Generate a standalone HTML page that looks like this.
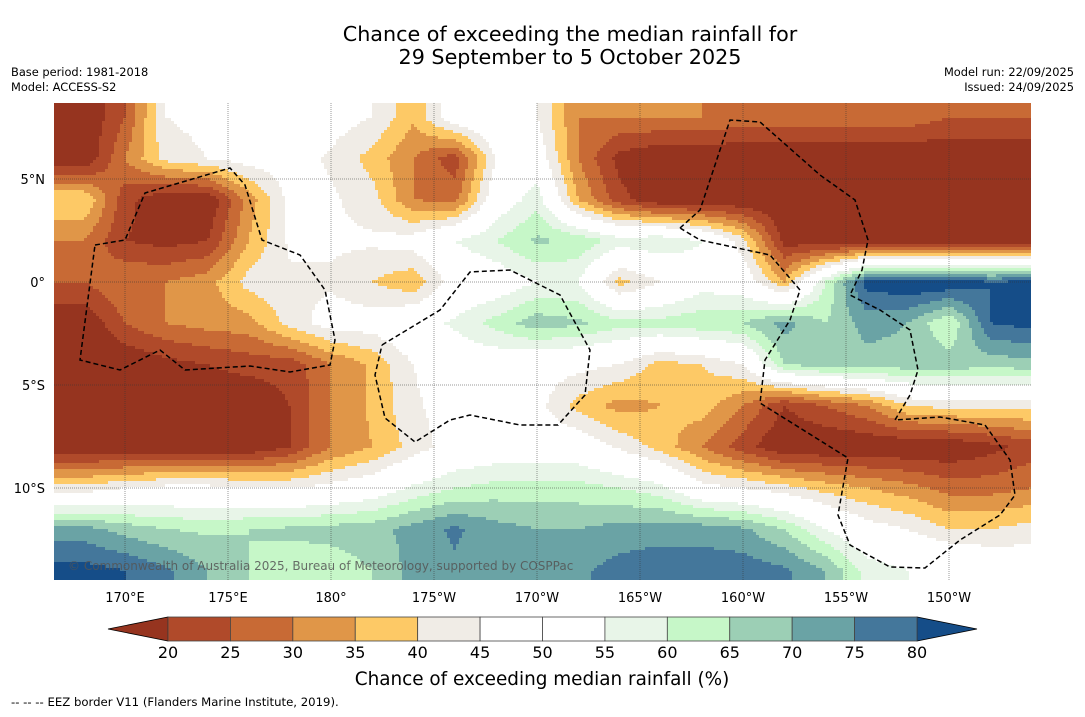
<!DOCTYPE html>
<html><head><meta charset="utf-8">
<style>
body{margin:0;background:#fff;width:1085px;height:713px;overflow:hidden;font-family:"DejaVu Sans","Liberation Sans",sans-serif;}
svg text{font-family:"DejaVu Sans","Liberation Sans",sans-serif;}
</style></head><body>
<svg id="chart" width="1085" height="713" viewBox="0 0 1085 713">
<text x="570" y="41" text-anchor="middle" font-size="20.7">Chance of exceeding the median rainfall for</text>
<text x="570" y="64" text-anchor="middle" font-size="20.7">29 September to 5 October 2025</text>
<text x="11" y="76" font-size="11.4">Base period: 1981-2018</text>
<text x="11" y="91" font-size="11.4">Model: ACCESS-S2</text>
<text x="1074" y="76" font-size="11.4" text-anchor="end">Model run: 22/09/2025</text>
<text x="1074" y="91" font-size="11.4" text-anchor="end">Issued: 24/09/2025</text>
<clipPath id="mapclip"><rect x="54" y="103" width="977" height="477"/></clipPath>
<g id="map" clip-path="url(#mapclip)"></g>
<g id="grid" clip-path="url(#mapclip)"></g>
<g id="eez" clip-path="url(#mapclip)"></g>
<text x="68" y="570" font-size="12" fill="#555" opacity="0.85">© Commonwealth of Australia 2025, Bureau of Meteorology, supported by COSPPac</text>
<g id="axes"></g>
<g id="cbar"></g>
<text x="542" y="685" text-anchor="middle" font-size="18.4">Chance of exceeding median rainfall (%)</text>
<text x="11" y="706" font-size="11.7">--  --  -- EEZ border V11 (Flanders Marine Institute, 2019).</text>
</svg>
<script>
const NS="http://www.w3.org/2000/svg";
const lons=[168,170,172,174,176,178,180,182,184,186,188,190,192,194,196,198,200,202,204,206,208,210,212,214];
const lats=[8,6,4,2,0,-2,-4,-6,-8,-10,-12,-14];
const r8N=[15,25,45,47,48,48,48,45,36,50,53,45,30,30,30,30,28,28,28,28,28,25,25,25];
const r6N=[15,30,42,45,48,48,44,38,30,22,45,50,30,18,15,15,15,15,15,15,15,15,15,15];
const r4N=[40,22,15,15,32,47,46,42,30,28,50,58,35,22,15,15,15,15,15,15,15,15,15,15];
const r2N=[30,20,18,20,35,46,46,46,48,55,60,66,64,58,60,55,42,18,15,15,15,15,15,15];
const r0=[25,30,30,33,42,44,44,40,36,48,50,55,55,38,45,52,50,35,60,82,85,85,80,82];
const r2S=[15,25,30,32,33,42,48,48,52,56,62,68,66,62,62,64,65,72,65,72,70,60,80,82];
const r4S=[15,15,18,20,22,22,30,36,45,50,50,48,47,45,38,40,45,65,68,68,68,68,67,68];
const r6S=[15,15,15,15,15,20,30,36,44,48,48,47,38,33,35,38,30,20,25,30,40,42,42,42];
const r8S=[15,15,15,15,15,20,30,35,42,48,50,50,50,44,38,30,22,15,15,15,15,15,18,22];
const r10S=[42,45,47,47,46,45,47,50,56,60,62,62,62,60,57,47,45,42,38,35,32,28,28,30];
const r12S=[72,68,65,64,65,66,67,68,72,76,72,70,70,72,73,73,71,65,55,48,45,40,40,42];
const r14S=[82,80,76,70,65,62,62,65,72,74,72,72,74,77,78,78,78,76,70,58,55,55,52,50];
const grid=[r8N,r6N,r4N,r2N,r0,r2S,r4S,r6S,r8S,r10S,r12S,r14S];
const levels=[20,25,30,35,40,45,50,55,60,65,70,75,80];
const colors=["#96341f","#b04a2a","#c86a35","#e09648","#fdc966","#f0ece6","#ffffff","#ffffff","#e8f5e8","#c6f7c8","#9ccfb5","#6aa3a5","#44779b","#154d88"];
const lonTicks=[170,175,180,185,190,195,200,205,210];
const lonLabels=["170°E","175°E","180°","175°W","170°W","165°W","160°W","155°W","150°W"];
const latTicks=[5,0,-5,-10];
const latLabels=["5°N","0°","5°S","10°S"];
function xS(lon){return 125+(lon-170)*20.6;}
function yS(lat){return 282-lat*20.6;}
function lonOf(x){return 170+(x-125)/20.6;}
function latOf(y){return (282-y)/20.6;}
function colorFor(v){let i=0;while(i<levels.length&&v>=levels[i])i++;return colors[i];}
function sample(lon,lat){
  let fi=(lon-lons[0])/2, fj=(lats[0]-lat)/2;
  fi=Math.max(0,Math.min(lons.length-1.001,fi)); fj=Math.max(0,Math.min(lats.length-1.001,fj));
  const i=Math.floor(fi),j=Math.floor(fj),a=fi-i,b=fj-j;
  return grid[j][i]*(1-a)*(1-b)+grid[j][i+1]*a*(1-b)+grid[j+1][i]*(1-a)*b+grid[j+1][i+1]*a*b;
}
const map=document.getElementById('map');
const step=3;
for(let y=103;y<580;y+=step){
  let runStart=54,runCol=null;
  for(let x=54;x<=1032;x+=step){
    const c=x<1032?colorFor(sample(lonOf(x+step/2),latOf(y+step/2))):null;
    if(c!==runCol){
      if(runCol!==null){
        const r=document.createElementNS(NS,'rect');
        r.setAttribute('x',runStart);r.setAttribute('y',y);r.setAttribute('width',x-runStart+0.5);r.setAttribute('height',step+0.5);r.setAttribute('fill',runCol);
        
        
        map.appendChild(r);
      }
      runStart=x;runCol=c;
    }
  }
}
const g=document.getElementById('grid');
lonTicks.forEach(l=>{const ln=document.createElementNS(NS,'line');ln.setAttribute('x1',xS(l));ln.setAttribute('x2',xS(l));ln.setAttribute('y1',103);ln.setAttribute('y2',580);ln.setAttribute('stroke','#333');ln.setAttribute('stroke-width','0.5');ln.setAttribute('stroke-dasharray','1,1');


g.appendChild(ln);});
latTicks.forEach(l=>{const ln=document.createElementNS(NS,'line');ln.setAttribute('y1',yS(l));ln.setAttribute('y2',yS(l));ln.setAttribute('x1',54);ln.setAttribute('x2',1031);ln.setAttribute('stroke','#333');ln.setAttribute('stroke-width','0.5');ln.setAttribute('stroke-dasharray','1,1');


g.appendChild(ln);});
const ax=document.getElementById('axes');
lonTicks.forEach((l,i)=>{const t=document.createElementNS(NS,'text');t.setAttribute('x',xS(l));t.setAttribute('y',602);t.setAttribute('text-anchor','middle');t.setAttribute('font-size','13');t.textContent=lonLabels[i];


ax.appendChild(t);});
latTicks.forEach((l,i)=>{const t=document.createElementNS(NS,'text');t.setAttribute('x',45);t.setAttribute('y',yS(l)+5);t.setAttribute('text-anchor','end');t.setAttribute('font-size','13');t.textContent=latLabels[i];


ax.appendChild(t);});
const eezLines=[
 [[95,245],[125,240],[145,193],[230,168],[245,185],[262,240],[300,255],[325,290],[335,340],[330,365],[290,372],[250,366],[185,370],[160,350],[120,370],[80,360],[95,245]],
 [[382,345],[440,310],[470,272],[510,270],[560,295],[590,350],[585,395],[558,425],[520,425],[470,415],[450,420],[415,442],[385,418],[375,375],[382,345]],
 [[680,228],[700,210],[730,120],[760,122],[820,175],[855,200],[868,240],[862,270],[850,295],[880,310],[910,330],[918,370],[910,395],[895,420],[940,417],[985,425],[1010,460],[1015,495],[1000,515],[960,540],[925,568],[890,567],[850,545],[838,515],[848,458],[760,403],[765,360],[790,320],[800,290],[770,255],[700,240],[680,228]]
];
const ez=document.getElementById('eez');
eezLines.forEach(pts=>{const p=document.createElementNS(NS,'polyline');p.setAttribute('points',pts.map(q=>q.join(',')).join(' '));p.setAttribute('fill','none');p.setAttribute('stroke','#000');p.setAttribute('stroke-width','1.5');p.setAttribute('stroke-dasharray','5,3');


ez.appendChild(p);});
const cb=document.getElementById('cbar');
const cx0=168,cx1=917,cy=617,ch=24,bw=(cx1-cx0)/12;
let lt=document.createElementNS(NS,'polygon');lt.setAttribute('points',`108,${cy+ch/2} ${cx0},${cy} ${cx0},${cy+ch}`);lt.setAttribute('fill',colors[0]);lt.setAttribute('stroke','#000');lt.setAttribute('stroke-width','0.8');


cb.appendChild(lt);
let rt=document.createElementNS(NS,'polygon');rt.setAttribute('points',`977,${cy+ch/2} ${cx1},${cy} ${cx1},${cy+ch}`);rt.setAttribute('fill',colors[13]);rt.setAttribute('stroke','#000');rt.setAttribute('stroke-width','0.8');


cb.appendChild(rt);
for(let i=0;i<12;i++){const r=document.createElementNS(NS,'rect');r.setAttribute('x',cx0+i*bw);r.setAttribute('y',cy);r.setAttribute('width',bw);r.setAttribute('height',ch);r.setAttribute('fill',colors[i+1]);r.setAttribute('stroke','#444');r.setAttribute('stroke-width','0.8');


cb.appendChild(r);}
levels.forEach((v,i)=>{const t=document.createElementNS(NS,'text');t.setAttribute('x',cx0+i*bw);t.setAttribute('y',658);t.setAttribute('text-anchor','middle');t.setAttribute('font-size','16');t.textContent=v;


cb.appendChild(t);});
</script>
</body></html>
